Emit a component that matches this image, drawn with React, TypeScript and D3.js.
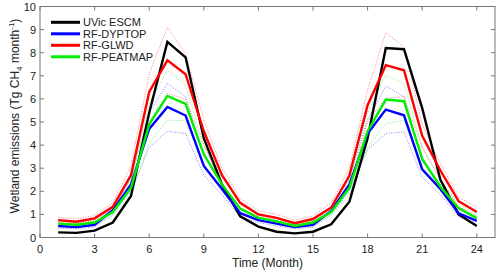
import React from 'react';
import * as d3 from 'd3';

const months = d3.range(1, 25);
const xTicks = [0, 3, 6, 9, 12, 15, 18, 21, 24];
const yTicks = [0, 1, 2, 3, 4, 5, 6, 7, 8, 9, 10];

const uvic = [0.22, 0.2, 0.3, 0.65, 1.8, 5.4, 8.47, 7.8, 4.3, 2.3, 0.92, 0.47, 0.25, 0.18, 0.25, 0.57, 1.55, 4.3, 8.2, 8.15, 5.6, 2.5, 1.0, 0.5];
const dyptop = [0.5, 0.45, 0.55, 1.18, 2.3, 4.7, 5.65, 5.28, 3.1, 2.1, 1.05, 0.75, 0.6, 0.45, 0.55, 1.15, 2.3, 4.5, 5.54, 5.29, 2.95, 2.1, 1.05, 0.72];
const glwd = [0.75, 0.68, 0.83, 1.33, 2.7, 6.3, 7.67, 7.07, 4.6, 2.7, 1.5, 1.0, 0.85, 0.62, 0.8, 1.3, 2.68, 5.73, 7.46, 7.24, 4.4, 2.9, 1.57, 1.1];
const peatmap = [0.6, 0.55, 0.65, 1.1, 2.15, 4.9, 6.13, 5.78, 3.6, 2.3, 1.25, 0.85, 0.7, 0.5, 0.65, 1.1, 2.15, 4.6, 5.97, 5.9, 3.4, 2.2, 1.27, 0.84];

const glwdHi = [0.88, 0.8, 0.95, 1.5, 3.1, 7.1, 9.1, 7.95, 5.1, 3.0, 1.7, 1.15, 1.0, 0.75, 0.92, 1.5, 3.0, 6.4, 8.87, 8.25, 4.9, 3.2, 1.75, 1.3];
const glwdLo = [0.65, 0.6, 0.72, 1.15, 2.3, 5.0, 6.23, 6.0, 4.0, 2.3, 1.3, 0.9, 0.75, 0.55, 0.7, 1.1, 2.2, 5.0, 6.02, 6.1, 3.9, 2.5, 1.35, 0.95];
const peatHi = [0.7, 0.65, 0.75, 1.25, 2.5, 5.8, 7.24, 6.6, 4.0, 2.6, 1.45, 0.95, 0.8, 0.6, 0.75, 1.25, 2.5, 5.4, 7.03, 6.67, 3.9, 2.5, 1.45, 1.0];
const peatLo = [0.5, 0.45, 0.55, 0.95, 1.85, 4.1, 5.08, 5.05, 3.2, 2.0, 1.1, 0.75, 0.6, 0.45, 0.55, 0.95, 1.85, 3.9, 4.93, 5.08, 3.0, 2.0, 1.1, 0.75];
const dypHi = [0.58, 0.52, 0.63, 1.3, 2.55, 5.4, 6.67, 6.09, 3.5, 2.3, 1.2, 0.85, 0.7, 0.52, 0.63, 1.3, 2.55, 5.1, 6.55, 6.09, 3.3, 2.3, 1.2, 0.82];
const dypLo = [0.4, 0.38, 0.45, 1.0, 2.0, 3.9, 4.6, 4.5, 2.7, 1.85, 0.9, 0.65, 0.5, 0.38, 0.45, 1.0, 2.0, 3.8, 4.5, 4.57, 2.6, 1.85, 0.9, 0.6];

const solidSeries = [
  { name: 'UVic ESCM', values: uvic, color: '#000000' },
  { name: 'RF-DYPTOP', values: dyptop, color: '#0000ff' },
  { name: 'RF-GLWD', values: glwd, color: '#ff0000' },
  { name: 'RF-PEATMAP', values: peatmap, color: '#00ee00' },
];

const dottedSeries = [
  { values: dypHi, color: '#7f7fff' },
  { values: dypLo, color: '#7f7fff' },
  { values: peatHi, color: '#7fef7f' },
  { values: peatLo, color: '#7fef7f' },
  { values: glwdHi, color: '#ff7f7f' },
  { values: glwdLo, color: '#ff7f7f' },
];

export default function App() {
  const left = 40, right = 495, top = 6.5, bottom = 237.5;
  const x = d3.scaleLinear().domain([0, 25]).range([left, right]);
  const y = d3.scaleLinear().domain([0, 10]).range([bottom, top]);
  const line = d3.line<number>().x((_, i) => x(months[i])).y(d => y(d));
  const axisColor = '#777';
  const font = 'Liberation Sans, Arial, sans-serif';

  return (
    <div style={{ position: 'absolute', left: 0, top: 0 }}>
      <svg width={500} height={272} style={{ display: 'block', background: '#fff' }}>
        {dottedSeries.map((s, i) => (
          <path key={'d' + i} d={line(s.values) || ''} fill="none" stroke={s.color}
            strokeWidth={1} strokeDasharray="1,1.5" />
        ))}
        {solidSeries.map(s => (
          <path key={s.name} d={line(s.values) || ''} fill="none" stroke={s.color}
            strokeWidth={2.4} strokeLinejoin="miter" />
        ))}
        <rect x={left} y={top} width={right - left} height={bottom - top}
          fill="none" stroke={axisColor} strokeWidth={1} />
        {xTicks.map(t => (
          <g key={'x' + t}>
            <line x1={x(t)} x2={x(t)} y1={bottom} y2={bottom - 4} stroke={axisColor} />
            <line x1={x(t)} x2={x(t)} y1={top} y2={top + 4} stroke={axisColor} />
            <text x={x(t)} y={253} textAnchor="middle" fontSize={11} fontFamily={font} fill="#222">{t}</text>
          </g>
        ))}
        {yTicks.map(t => (
          <g key={'y' + t}>
            <line x1={left} x2={left + 4} y1={y(t)} y2={y(t)} stroke={axisColor} />
            <line x1={right} x2={right - 4} y1={y(t)} y2={y(t)} stroke={axisColor} />
            <text x={36} y={y(t) + 4} textAnchor="end" fontSize={11} fontFamily={font} fill="#222">{t}</text>
          </g>
        ))}
        <text x={(left + right) / 2} y={267} textAnchor="middle" fontSize={12} fontFamily={font} fill="#222">Time (Month)</text>
        <text transform={`translate(19,${(top + bottom) / 2 - 6}) rotate(-90)`} textAnchor="middle"
          fontSize={12} fontFamily={font} fill="#222">
          Wetland emissions (Tg CH<tspan fontSize={8} dy={3}>4</tspan><tspan dy={-3}> month</tspan>
          <tspan fontSize={8} dy={-5}>-1</tspan><tspan dy={5}>)</tspan>
        </text>
        {solidSeries.map((s, i) => (
          <g key={'l' + s.name}>
            <line x1={51} x2={80} y1={22.3 + i * 11.5} y2={22.3 + i * 11.5} stroke={s.color} strokeWidth={3} />
            <text x={83} y={22.3 + i * 11.5 + 4} fontSize={11} fontFamily={font} fill="#222">{s.name}</text>
          </g>
        ))}
      </svg>
    </div>
  );
}
